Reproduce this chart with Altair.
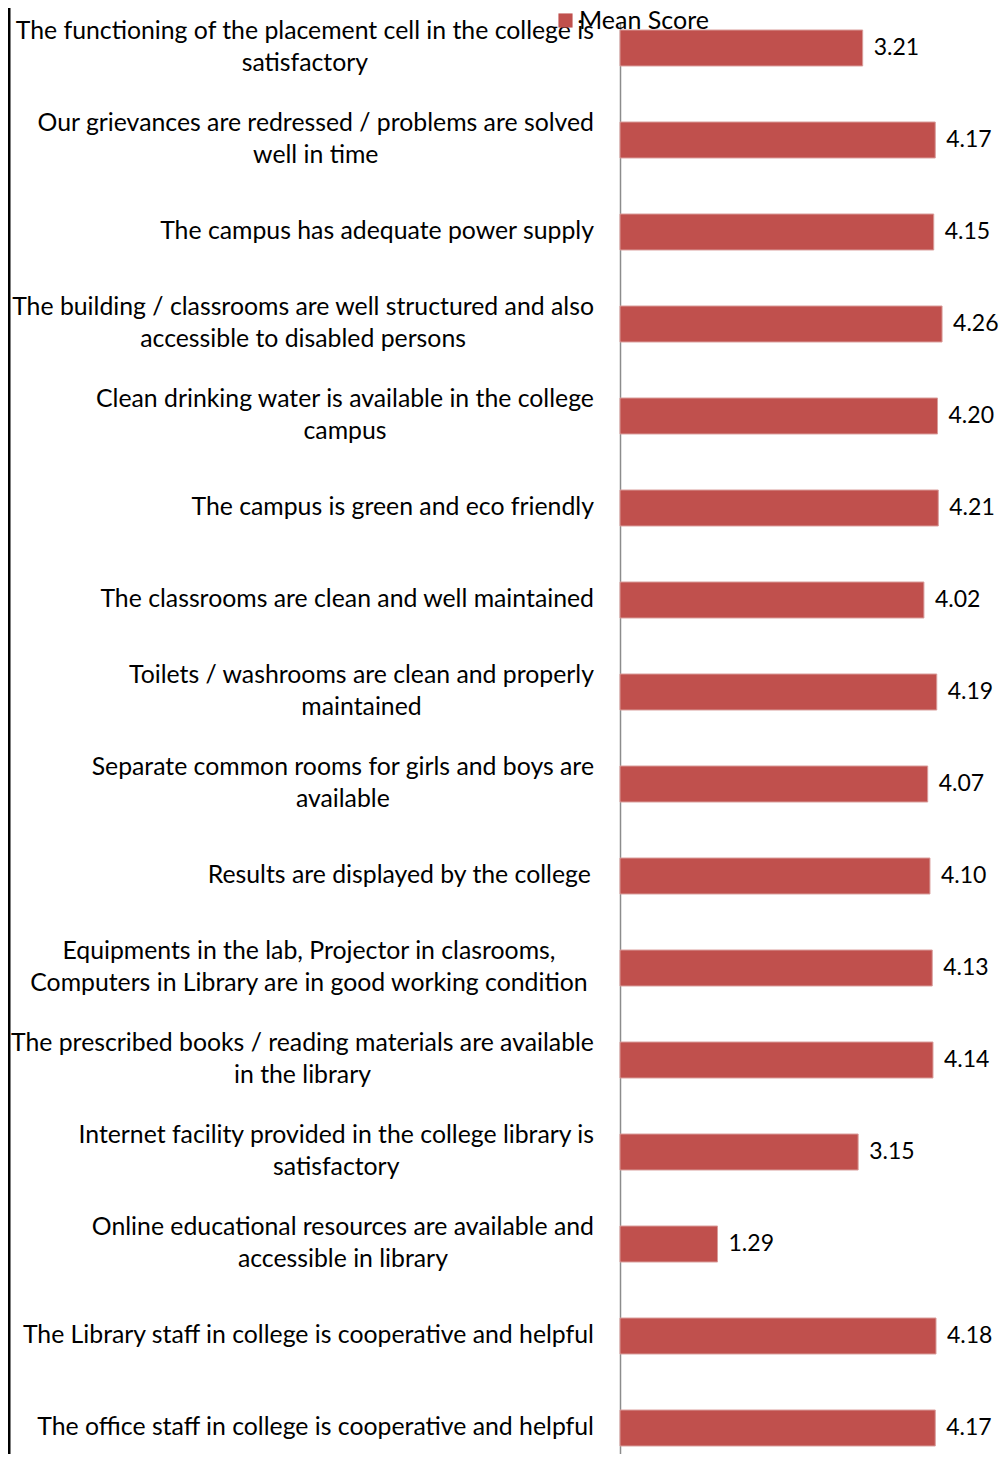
import subprocess
import altair as alt
import pandas as pd

categories = [
    "The functioning of the placement cell in the college is\nsatisfactory",
    "Our grievances are redressed / problems are solved\nwell in time",
    "The campus has adequate power supply",
    "The building / classrooms are well structured and also\naccessible to disabled persons",
    "Clean drinking water is available in the college\ncampus",
    "The campus is green and eco friendly",
    "The classrooms are clean and well maintained",
    "Toilets / washrooms are clean and properly\nmaintained",
    "Separate common rooms for girls and boys are\navailable",
    "Results are displayed  by the college",
    "Equipments  in the lab, Projector in clasrooms,\nComputers in Library   are in good working condition",
    "The prescribed books / reading materials are available\nin the library",
    "Internet facility provided in the college library is\nsatisfactory",
    "Online educational resources are available and\naccessible in library",
    "The Library staff in college is cooperative and helpful",
    "The office staff in college is cooperative and helpful",
]
scores = [3.21, 4.17, 4.15, 4.26, 4.20, 4.21, 4.02, 4.19, 4.07, 4.10,
          4.13, 4.14, 3.15, 1.29, 4.18, 4.17]
series_name = "Mean Score"

FONT = "Lato"
LABEL_SIZE = 24.8
VALUE_SIZE = 23
LABEL_GAP = 26
LINE_H = 32.5


def block_widths(texts, size):
    lines = [t.split("\n") for t in texts]
    try:
        from PIL import ImageFont
        path = subprocess.run(["fc-match", "-f", "%{file}", FONT],
                              capture_output=True, text=True).stdout.strip()
        f = ImageFont.truetype(path, size)
        return [max(f.getlength(l) for l in ls) for ls in lines]
    except Exception:
        def w(ch):
            if ch in "iljtf.,/ I'":
                return 0.27
            if ch in "rs":
                return 0.39
            if ch in "mwMW":
                return 0.8
            if ch.isupper():
                return 0.62
            return 0.52
        return [max(sum(w(c) for c in l) * size for l in ls) for ls in lines]


widths = block_widths(categories, LABEL_SIZE)

df = pd.DataFrame({
    "category": categories,
    "score": scores,
    "series": [series_name] * len(scores),
    "cx": [-LABEL_GAP - w / 2 for w in widths],
    "nlines": [c.count("\n") + 1 for c in categories],
    "label": [f"{s:.2f}" for s in scores],
})

W = 370
TOP = 14
H = 1432
y_enc = alt.Y("category:N", sort=categories,
              scale=alt.Scale(paddingInner=0.609, paddingOuter=0.087, align=0.5),
              axis=alt.Axis(labels=False, ticks=False, title=None,
                            domainColor="#8c8c8c", domainWidth=1.5))

base = alt.Chart(df)

bars = base.mark_bar(color="#C0504D", stroke="#D99C9A", strokeWidth=1).encode(
    x=alt.X("score:Q", scale=alt.Scale(domain=[0, W / 75.6], nice=False, zero=True),
            axis=None),
    y=y_enc,
    color=alt.Color("series:N",
                    scale=alt.Scale(domain=[series_name], range=["#C0504D"]),
                    legend=alt.Legend(title=None, orient="none", legendX=-67,
                                      legendY=-TOP,
                                      symbolType="square", symbolSize=200,
                                      symbolStrokeWidth=0,
                                      labelFont=FONT, labelFontSize=25,
                                      labelColor="#000000", labelOffset=1)),
)

values = base.mark_text(align="left", baseline="middle", dx=11,
                        font=FONT, fontSize=VALUE_SIZE, color="#000000").encode(
    x="score:Q",
    y=alt.Y("category:N", sort=categories),
    text="label:N",
)

label_kw = dict(align="center", baseline="middle", lineBreak="\n",
                lineHeight=LINE_H, font=FONT, fontSize=LABEL_SIZE, color="#000000")
label_enc = dict(x=alt.X("cx:Q", scale=None),
                 y=alt.Y("category:N", sort=categories),
                 text="category:N")

labels1 = base.transform_filter("datum.nlines == 1").mark_text(**label_kw).encode(**label_enc)
labels2 = base.transform_filter("datum.nlines == 2").mark_text(
    dy=-LINE_H / 2, **label_kw).encode(**label_enc)

border = alt.Chart(pd.DataFrame({"k": [0]})).mark_rule(
    color="#000000", strokeWidth=3).encode(
    x=alt.value(-611), y=alt.value(-TOP), y2=alt.value(H))

chart = alt.layer(bars, values, labels1, labels2, border).properties(
    width=W, height=H,
    autosize=alt.AutoSizeParams(type="none"),
    padding={"left": 612, "top": TOP, "right": 10, "bottom": 0},
).configure_view(stroke=None)

chart.save("out.html", embed_options={"renderer": "svg", "actions": False})
